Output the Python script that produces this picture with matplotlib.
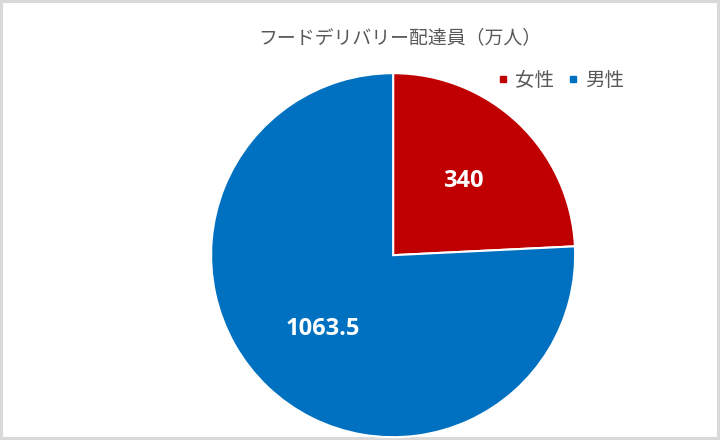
import matplotlib.pyplot as plt
from matplotlib.lines import Line2D

plt.rcParams["font.family"] = ["Noto Sans CJK JP", "DejaVu Sans"]

# data
title = "フードデリバリー配達員（万人）"
labels = ["女性", "男性"]
values = [340, 1063.5]
colors = ["#C00000", "#0070C0"]

fig = plt.figure(figsize=(7.2, 4.4), dpi=100)
fig.patch.set_edgecolor("#D9D9D9")
fig.patch.set_linewidth(3)

ax = fig.add_axes([0.546 - 0.2528, 0.420 - 0.4136, 0.5056, 0.8273])
wedges, texts, autotexts = ax.pie(
    values,
    colors=colors,
    startangle=90,
    counterclock=False,
    radius=1.0,
    autopct=lambda p: f"{p * sum(values) / 100:g}",
    pctdistance=0.56,
    wedgeprops={"edgecolor": "white", "linewidth": 1.5},
)
for t in autotexts:
    t.set_color("white")
    t.set_fontsize(17)
    t.set_fontweight("bold")
    t.set_family(["Open Sans", "DejaVu Sans"])
ax.set_xlim(-1, 1)
ax.set_ylim(-1, 1)
ax.set_aspect("equal")

fig.text(0.556, 0.914, title, ha="center", va="center", fontsize=13.6, color="#595959")

handles = [
    Line2D([], [], linestyle="none", marker="s", markersize=5,
           markerfacecolor=c, markeredgecolor=c)
    for c in colors
]
fig.legend(
    handles, labels, loc="center", bbox_to_anchor=(0.777, 0.818), ncol=2,
    frameon=False, fontsize=14, labelcolor="#595959",
    handletextpad=0.2, columnspacing=0.6, handlelength=0.8,
)

fig.savefig("out.png", dpi=100)
